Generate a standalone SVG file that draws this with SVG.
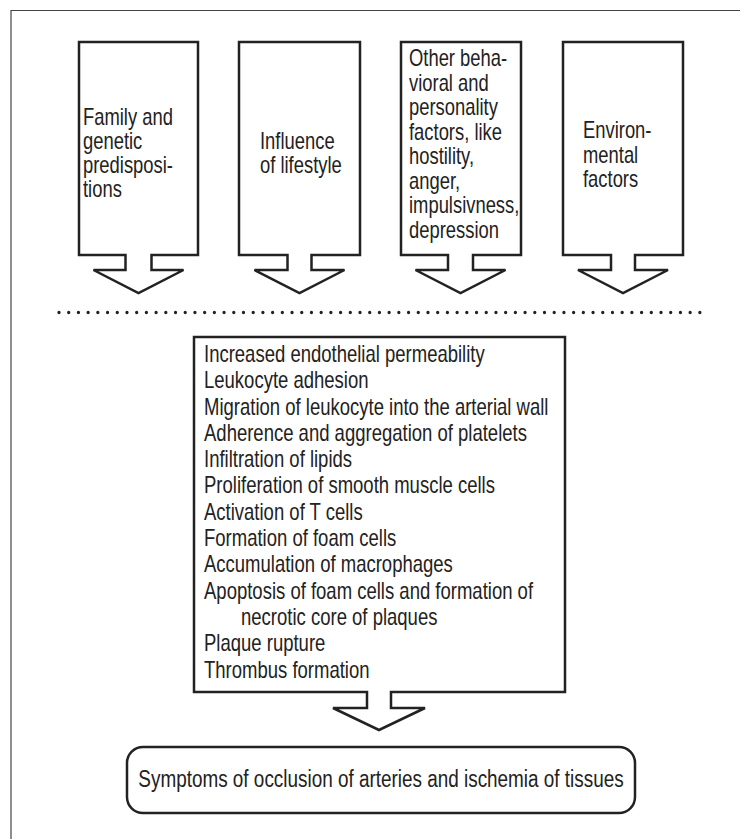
<svg xmlns="http://www.w3.org/2000/svg" width="740" height="839" viewBox="0 0 740 839">
<style>
.frame{fill:none;stroke:#444;stroke-width:1.2}
.box{fill:#fff;stroke:#222;stroke-width:2.5;stroke-linejoin:miter}
.t{font-family:"Liberation Sans",Arial,sans-serif;font-size:23px;fill:#222}
.dots{stroke:#222;stroke-width:3.3;stroke-linecap:round;stroke-dasharray:0 9.71;fill:none}
</style>
<rect width="740" height="839" fill="#fff"/>
<g id="frame">
<path class="frame" d="M11,839 V10.5 H740"/>
</g>
<g id="node-family">
<path class="box" d="M79,42 H198 V255 H151.5 V270 H183.5 L138.5,293 L93.5,270 H125.5 V255 H79 Z"/>
<text class="t" transform="translate(83,0) scale(0.8,1)"><tspan x="0" y="125">Family and</tspan><tspan x="0" y="149">genetic</tspan><tspan x="0" y="173">predisposi-</tspan><tspan x="0" y="197">tions</tspan></text>
</g>
<g id="node-lifestyle">
<path class="box" d="M239,42 H360 V255 H311.5 V270 H344.5 L299.5,293 L254.5,270 H287.5 V255 H239 Z"/>
<text class="t" transform="translate(260,0) scale(0.8,1)"><tspan x="0" y="149">Influence</tspan><tspan x="0" y="173">of lifestyle</tspan></text>
</g>
<g id="node-behavioral">
<path class="box" d="M401,42 H521 V255 H473 V270 H505.5 L460.5,293 L415.5,270 H448 V255 H401 Z"/>
<text class="t" transform="translate(409,0) scale(0.8,1)"><tspan x="0" y="66.5">Other beha-</tspan><tspan x="0" y="91">vioral and</tspan><tspan x="0" y="115.5">personality</tspan><tspan x="0" y="140">factors, like</tspan><tspan x="0" y="164.5">hostility,</tspan><tspan x="0" y="189">anger,</tspan><tspan x="0" y="213.5">impulsivness,</tspan><tspan x="0" y="238">depression</tspan></text>
</g>
<g id="node-environmental">
<path class="box" d="M563,42 H683 V255 H635 V270 H668 L623,293 L578,270 H611 V255 H563 Z"/>
<text class="t" transform="translate(583,0) scale(0.8,1)"><tspan x="0" y="138.5">Environ-</tspan><tspan x="0" y="163">mental</tspan><tspan x="0" y="187.5">factors</tspan></text>
</g>
<g id="connectors">
<line class="dots" x1="59" y1="312.5" x2="700.5" y2="312.5"/>
</g>
<g id="node-processes">
<path class="box" d="M194,337 H565 V692 H391 V708 H425 L379,730 L333,708 H367 V692 H194 Z"/>
<text class="t" transform="translate(204,0) scale(0.805,1)"><tspan x="0" y="362">Increased endothelial permeability</tspan><tspan x="0" y="388.3">Leukocyte adhesion</tspan><tspan x="0" y="414.6">Migration of leukocyte into the arterial wall</tspan><tspan x="0" y="440.9">Adherence and aggregation of platelets</tspan><tspan x="0" y="467.2">Infiltration of lipids</tspan><tspan x="0" y="493.5">Proliferation of smooth muscle cells</tspan><tspan x="0" y="519.8">Activation of T cells</tspan><tspan x="0" y="546.1">Formation of foam cells</tspan><tspan x="0" y="572.4">Accumulation of macrophages</tspan><tspan x="0" y="598.7">Apoptosis of foam cells and formation of</tspan><tspan x="46" y="625">necrotic core of plaques</tspan><tspan x="0" y="651.3">Plaque rupture</tspan><tspan x="0" y="677.6">Thrombus formation</tspan></text>
</g>
<g id="node-symptoms">
<rect class="box" x="127" y="747" width="508" height="66" rx="16" ry="16"/>
<text class="t" text-anchor="middle" transform="translate(381,0) scale(0.822,1)"><tspan x="0" y="787">Symptoms of occlusion of arteries and ischemia of tissues</tspan></text>
</g>
</svg>
